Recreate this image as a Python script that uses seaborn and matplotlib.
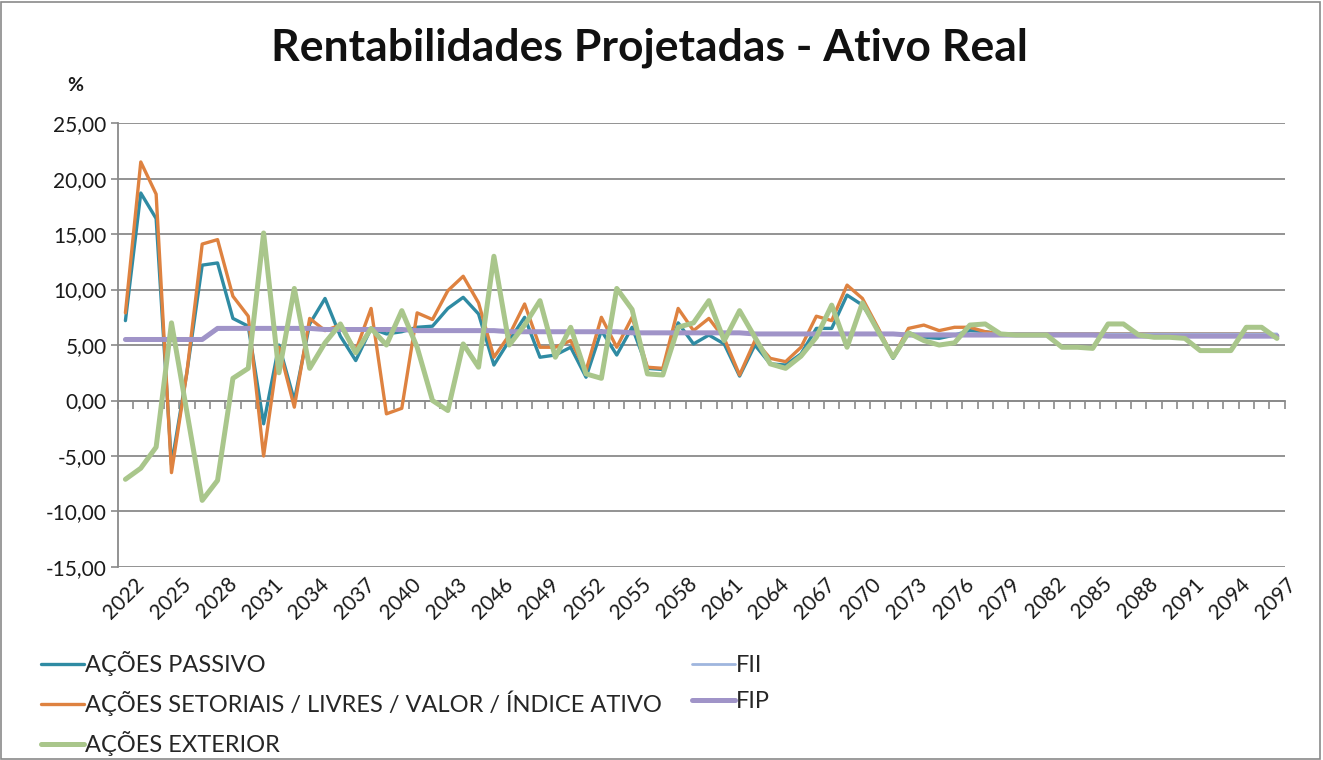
import matplotlib
matplotlib.use('Agg')
import matplotlib.pyplot as plt
from matplotlib.patches import Rectangle
from matplotlib.ticker import FuncFormatter
from matplotlib.transforms import ScaledTranslation
import pandas
import seaborn as sns

anos = list(range(2022, 2098))

acoes_passivo = [7.2, 18.7, 16.4, -5.8, 2.5, 12.2, 12.4, 7.4, 6.7, -2.1,
                 5.0, 0.0, 6.9, 9.2, 5.8, 3.6, 6.5, 6.0, 6.2, 6.6,
                 6.7, 8.3, 9.3, 7.8, 3.2, 5.4, 7.5, 3.9, 4.1, 4.8,
                 2.1, 6.3, 4.1, 6.6, 2.9, 2.8, 7.0, 5.1, 5.9, 5.1,
                 2.2, 5.0, 3.3, 3.2, 4.2, 6.5, 6.5, 9.5, 8.6, 6.5,
                 3.8, 6.1, 5.7, 5.6, 5.9, 6.3, 6.2, 6.0, 6.0, 6.0,
                 6.0, 6.0, 6.0, 6.0, 6.0, 6.0, 6.0, 6.0, 6.0, 6.0,
                 6.0, 6.0, 6.0, 6.0, 6.0, 5.9]
acoes_setoriais = [7.9, 21.5, 18.6, -6.5, 2.5, 14.1, 14.5, 9.4, 7.6, -5.0,
                   4.8, -0.6, 7.4, 6.3, 6.8, 4.5, 8.3, -1.2, -0.7, 7.9,
                   7.3, 9.9, 11.2, 8.8, 3.9, 5.9, 8.7, 4.8, 4.8, 5.4,
                   2.7, 7.5, 4.8, 7.5, 3.0, 2.9, 8.3, 6.3, 7.4, 5.6,
                   2.3, 5.4, 3.8, 3.5, 4.8, 7.6, 7.2, 10.4, 9.2, 6.6,
                   3.9, 6.5, 6.8, 6.3, 6.6, 6.6, 6.2, 6.0, 6.0, 6.0,
                   6.0, 6.0, 6.0, 6.0, 6.0, 6.0, 6.0, 6.0, 6.0, 6.0,
                   6.0, 6.0, 6.0, 6.0, 6.0, 5.9]
acoes_exterior = [-7.1, -6.1, -4.2, 7.0, -1.0, -9.0, -7.2, 2.0, 2.9, 15.1,
                  2.5, 10.1, 2.9, 5.2, 6.9, 4.3, 6.5, 5.0, 8.1, 4.8,
                  0.0, -0.9, 5.1, 3.0, 13.0, 5.0, 6.8, 9.0, 3.9, 6.6,
                  2.4, 2.0, 10.1, 8.2, 2.4, 2.3, 6.6, 7.0, 9.0, 5.4,
                  8.1, 5.7, 3.3, 2.9, 4.0, 5.7, 8.6, 4.8, 8.8, 6.3,
                  3.9, 6.1, 5.4, 5.0, 5.2, 6.8, 6.9, 6.0, 5.9, 5.9,
                  5.9, 4.8, 4.8, 4.7, 6.9, 6.9, 5.9, 5.7, 5.7, 5.6,
                  4.5, 4.5, 4.5, 6.6, 6.6, 5.6]
fii = [5.5, 5.5, 5.5, 5.5, 5.5, 5.5, 6.4, 6.5, 6.5, 6.5,
       6.5, 6.5, 6.5, 6.4, 6.4, 6.4, 6.4, 6.4, 6.4, 6.3,
       6.3, 6.3, 6.3, 6.3, 6.3, 6.2, 6.2, 6.2, 6.2, 6.2,
       6.2, 6.2, 6.2, 6.1, 6.1, 6.1, 6.1, 6.1, 6.1, 6.1,
       6.1, 6.0, 6.0, 6.0, 6.0, 6.0, 6.0, 6.0, 6.0, 6.0,
       6.0, 6.0, 6.0, 6.0, 6.0, 6.0, 6.0, 6.0, 6.0, 6.0,
       6.0, 6.0, 6.0, 6.0, 6.0, 6.0, 6.0, 6.0, 6.0, 6.0,
       6.0, 6.0, 6.0, 6.0, 6.0, 6.0]
fip = [5.5, 5.5, 5.5, 5.5, 5.5, 5.5, 6.5, 6.5, 6.5, 6.5,
       6.5, 6.5, 6.5, 6.4, 6.4, 6.4, 6.4, 6.4, 6.4, 6.3,
       6.3, 6.3, 6.3, 6.3, 6.3, 6.2, 6.2, 6.2, 6.2, 6.2,
       6.2, 6.2, 6.2, 6.1, 6.1, 6.1, 6.1, 6.1, 6.1, 6.1,
       6.1, 6.0, 6.0, 6.0, 6.0, 6.0, 6.0, 6.0, 6.0, 6.0,
       6.0, 5.9, 5.9, 5.9, 5.9, 5.9, 5.9, 5.9, 5.9, 5.9,
       5.9, 5.9, 5.9, 5.9, 5.8, 5.8, 5.8, 5.8, 5.8, 5.8,
       5.8, 5.8, 5.8, 5.8, 5.8, 5.8]

series = {
    'AÇÕES PASSIVO': acoes_passivo,
    'AÇÕES SETORIAIS / LIVRES / VALOR / ÍNDICE ATIVO': acoes_setoriais,
    'AÇÕES EXTERIOR': acoes_exterior,
    'FII': fii,
    'FIP': fip,
}
# cor, espessura, ordem de desenho
estilos = {
    'AÇÕES PASSIVO': ('#2f8ba3', 2.4, 2),
    'AÇÕES SETORIAIS / LIVRES / VALOR / ÍNDICE ATIVO': ('#de8240', 2.4, 3),
    'AÇÕES EXTERIOR': ('#a9c68b', 3.6, 6),
    'FII': ('#9fb6de', 2.0, 4),
    'FIP': ('#a094c8', 3.6, 5),
}

df = pandas.DataFrame([{'ano': a, 'serie': nome, 'valor': v}
                       for nome, valores in series.items()
                       for a, v in zip(anos, valores)])

sns.set_theme(style='white')
plt.rcParams['font.family'] = ['Lato', 'DejaVu Sans']
cinza = '#8a8a8a'

fig = plt.figure(figsize=(13.23, 7.6), dpi=100)
ax = fig.add_axes([0.089, 0.254, 0.882, 0.584])

for nome in series:
    cor, lw, ordem = estilos[nome]
    sns.lineplot(data=df[df['serie'] == nome], x='ano', y='valor', color=cor,
                 linewidth=lw, zorder=ordem, label=nome, ax=ax)

ax.set_ylim(-15, 25)
ax.set_xlim(anos[0] - 0.5, anos[-1] + 0.5)
ax.set_yticks(range(-15, 30, 5))
ax.yaxis.set_major_formatter(FuncFormatter(lambda v, p: f'{v:.2f}'.replace('.', ',')))
ax.yaxis.grid(True, color=cinza, linewidth=1.3)
ax.set_axisbelow(True)
ax.set_xlabel('')
ax.set_ylabel('')

for lado in ['top', 'right']:
    ax.spines[lado].set_visible(False)
ax.spines['left'].set_color(cinza)
ax.spines['left'].set_linewidth(1.3)
ax.spines['bottom'].set_position(('data', 0))
ax.spines['bottom'].set_color(cinza)
ax.spines['bottom'].set_linewidth(1.3)

ax.set_xticks([a - 0.5 for a in anos] + [anos[-1] + 0.5])
ax.tick_params(axis='x', bottom=True, direction='out', length=6, width=1.2,
               color=cinza, labelbottom=False)
ax.tick_params(axis='y', left=True, direction='out', length=5, width=1.2,
               color=cinza, labelsize=15, pad=3, labelcolor='#1a1a1a')

rotulos = ax.secondary_xaxis('bottom')
rotulos.spines['bottom'].set_visible(False)
rotulos.set_xticks(anos[::3])
rotulos.set_xticklabels([str(a) for a in anos[::3]], rotation=45, ha='right',
                        rotation_mode='anchor', fontsize=15, color='#1a1a1a')
rotulos.tick_params(axis='x', length=0, pad=5)
deslocamento = ScaledTranslation(9 / 100, 0, fig.dpi_scale_trans)
for rotulo in rotulos.get_xticklabels():
    rotulo.set_transform(rotulo.get_transform() + deslocamento)

ax.get_legend().remove()
handles, labels = ax.get_legend_handles_labels()
fig.legend(handles, labels, ncol=2, loc='upper left', bbox_to_anchor=(0.031, 0.143),
           frameon=False, fontsize=17, handlelength=1.8, handletextpad=0.05,
           columnspacing=1.3, labelspacing=0.62, borderaxespad=0, borderpad=0)

fig.text(0.491, 0.937, 'Rentabilidades Projetadas - Ativo Real', ha='center', va='center',
         fontsize=32, fontweight='bold', color='#111111')
fig.text(0.057, 0.888, '%', ha='center', va='center', fontsize=14, fontweight='bold',
         color='#1a1a1a')
fig.add_artist(Rectangle((0.001, 0.001), 0.997, 0.997, transform=fig.transFigure,
                         fill=False, edgecolor=cinza, linewidth=1.2))

fig.savefig('out.png', dpi=100)
